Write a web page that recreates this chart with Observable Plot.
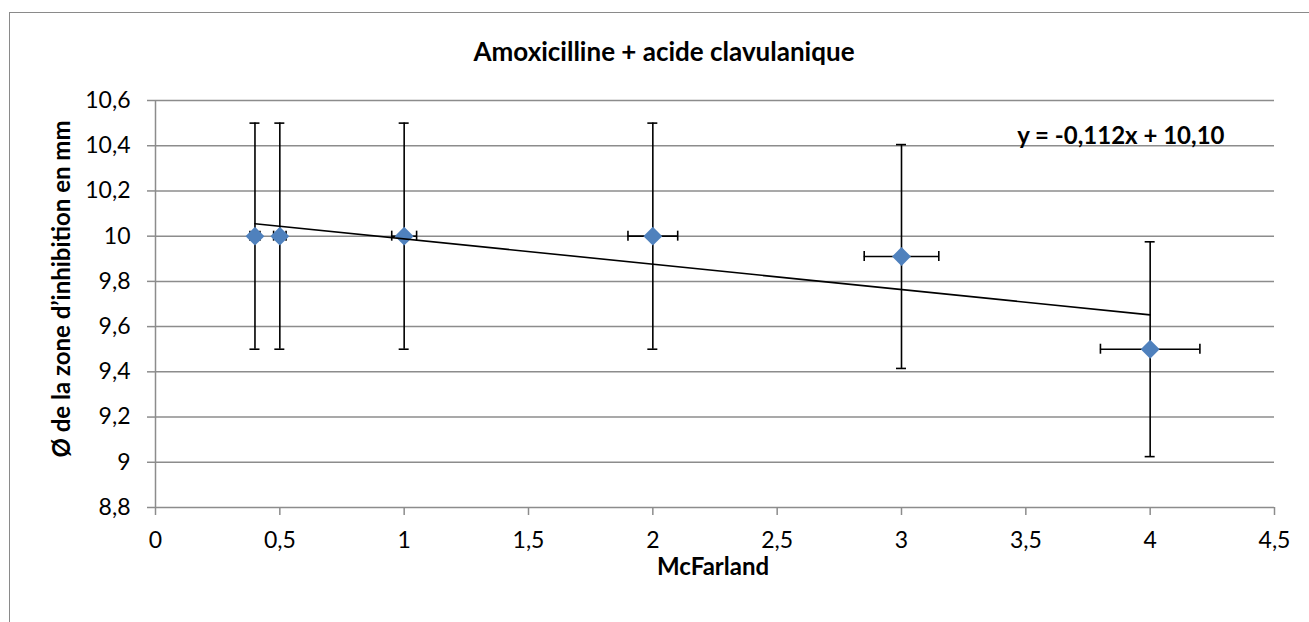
<!DOCTYPE html>
<html>
<head>
<meta charset="utf-8">
<script src="https://cdn.jsdelivr.net/npm/d3@7"></script>
<script src="https://cdn.jsdelivr.net/npm/@observablehq/plot@0.6"></script>
<style>
  html, body { margin: 0; padding: 0; background: #fff; }
  #wrap { position: relative; width: 1309px; height: 622px; overflow: hidden; }
  #border { position: absolute; left: 9px; top: 12px; width: 1400px; height: 700px;
            border-left: 1.5px solid #8a8a8a; border-top: 1.5px solid #8a8a8a; box-sizing: border-box; }
  #chart { position: absolute; left: 0; top: 0; }
</style>
</head>
<body>
<div id="wrap"><div id="border"></div><div id="chart"></div></div>
<script>
// Data
const mcfarland = [0.4, 0.5, 1, 2, 3, 4];
const diameter  = [10, 10, 10, 10, 9.91, 9.5];
const yError    = [0.5, 0.5, 0.5, 0.5, 0.495, 0.475];
const xError    = [0.02, 0.025, 0.05, 0.1, 0.15, 0.2];
const trendX    = [0.4, 4];
const trendY    = [10.0552, 9.652];
const yTicks    = [8.8, 9, 9.2, 9.4, 9.6, 9.8, 10, 10.2, 10.4, 10.6];
const xTicks    = [0, 0.5, 1, 1.5, 2, 2.5, 3, 3.5, 4, 4.5];
const title     = "Amoxicilline + acide clavulanique";
const xLabel    = "McFarland";
const yLabel    = "Ø de la zone d’inhibition en mm";
const equation  = "y = -0,112x + 10,10";

const pts = mcfarland.map((x, i) => ({x, y: diameter[i], ey: yError[i], ex: xError[i]}));
const trend = trendX.map((x, i) => ({x, y: trendY[i]}));
const fmt = d => String(d).replace(".", ",");

const font = "Lato, 'Open Sans', sans-serif";
const grey = "#8c8c8c";

const plot = Plot.plot({
  width: 1309,
  height: 622,
  marginLeft: 155,
  marginRight: 35,
  marginTop: 100,
  marginBottom: 115,
  style: { fontFamily: font, fontSize: "23px", color: "#000", background: "transparent" },
  x: { domain: [0, 4.5], ticks: xTicks, tickFormat: fmt, label: null },
  y: { domain: [8.8, 10.6], ticks: yTicks, tickFormat: fmt, label: null },
  marks: [
    Plot.gridY(yTicks, { stroke: grey, strokeOpacity: 1, strokeWidth: 1.5 }),
    Plot.ruleX([0], { stroke: grey, strokeWidth: 1.5 }),
    Plot.axisX({ ticks: xTicks, tickFormat: fmt, tickSize: 8, tickPadding: 16, stroke: grey, strokeWidth: 1.5, fontSize: 23, fill: "#000", label: null }),
    Plot.axisY({ ticks: yTicks, tickFormat: fmt, tickSize: 8, tickPadding: 17, stroke: grey, strokeWidth: 1.5, fontSize: 23, fill: "#000", label: null }),
    // vertical error bars
    Plot.ruleX(pts, { x: "x", y1: d => d.y - d.ey, y2: d => d.y + d.ey, stroke: "#000", strokeWidth: 1.6 }),
    Plot.ruleY(pts, { y: d => d.y + d.ey, x1: "x", x2: "x", insetLeft: -5, insetRight: -5, stroke: "#000", strokeWidth: 1.6 }),
    Plot.ruleY(pts, { y: d => d.y - d.ey, x1: "x", x2: "x", insetLeft: -5, insetRight: -5, stroke: "#000", strokeWidth: 1.6 }),
    // horizontal error bars
    Plot.ruleY(pts, { y: "y", x1: d => d.x - d.ex, x2: d => d.x + d.ex, stroke: "#000", strokeWidth: 1.6 }),
    Plot.ruleX(pts, { x: d => d.x - d.ex, y1: "y", y2: "y", insetTop: -5, insetBottom: -5, stroke: "#000", strokeWidth: 1.6 }),
    Plot.ruleX(pts, { x: d => d.x + d.ex, y1: "y", y2: "y", insetTop: -5, insetBottom: -5, stroke: "#000", strokeWidth: 1.6 }),
    // markers
    Plot.dot(pts, { x: "x", y: "y", symbol: "diamond2", r: 8.5, fill: "#4f81bd", stroke: "none" }),
    // trend line
    Plot.line(trend, { x: "x", y: "y", stroke: "#000", strokeWidth: 1.6 }),
    // texts
    Plot.text([title], { frameAnchor: "top", textAnchor: "middle", lineAnchor: "middle", dx: -51, dy: -48, fontWeight: "bold", fontSize: 26, fill: "#000" }),
    Plot.text([equation], { frameAnchor: "top-right", textAnchor: "end", lineAnchor: "middle", dx: -50, dy: 36, fontWeight: "bold", fontSize: 24, fill: "#000" }),
    Plot.text([xLabel], { frameAnchor: "bottom", textAnchor: "middle", lineAnchor: "middle", dx: -2, dy: 60, fontWeight: "bold", fontSize: 24, fill: "#000" }),
    Plot.text([yLabel], { frameAnchor: "left", textAnchor: "middle", lineAnchor: "middle", rotate: -90, dx: -93, dy: -15, fontWeight: "bold", fontSize: 24, fill: "#000" })
  ]
});
document.getElementById("chart").appendChild(plot);
</script>
</body>
</html>
